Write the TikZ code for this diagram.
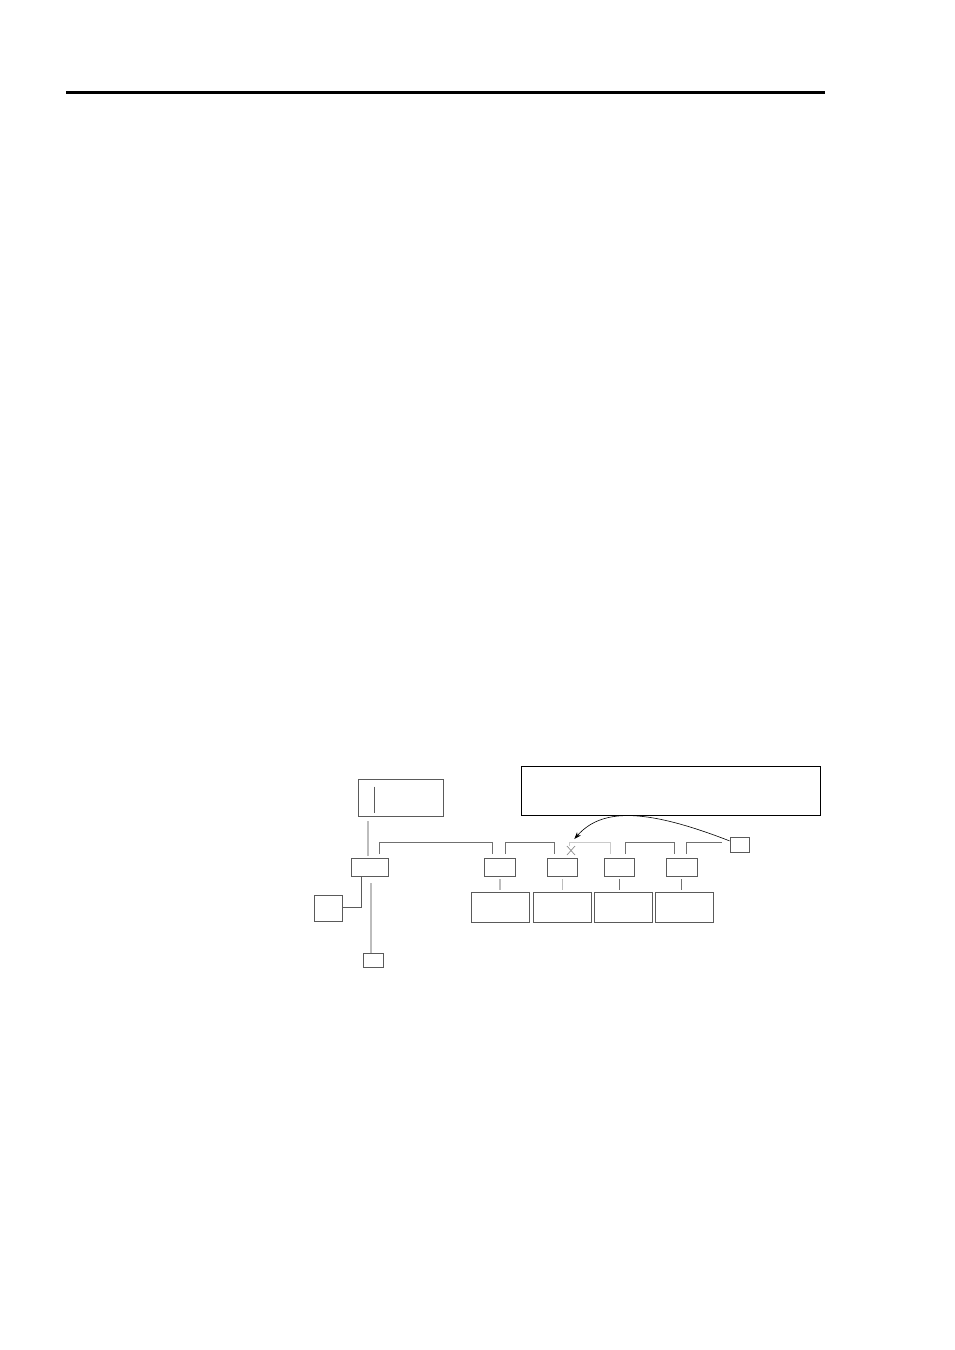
\documentclass[tikz,border=0pt]{standalone}
\usetikzlibrary{arrows.meta}
\definecolor{boxc}{HTML}{5A5A5A}
\definecolor{busc}{HTML}{707070}
\definecolor{lgc}{HTML}{BDBDBD}
\tikzset{
  box/.style={draw=boxc, line width=0.9pt, inner sep=0pt, minimum width=#1},
  box/.default=30pt,
  bus/.style={draw=busc, line width=0.9pt},
  feed/.style={draw=lgc, line width=1.6pt},
  faint/.style={draw=lgc!80, line width=0.8pt},
}
\begin{document}
\begin{tikzpicture}[x=1pt,y=-1pt]
\useasboundingbox (0,0) rectangle (954,1350);
% header rule
\coordinate (hl) at (66,92.5);
\coordinate (hr) at (825,92.5);
\draw[line width=2.4pt] (hl) -- (hr);

% nodes
\node[box=85pt, minimum height=37.4pt] (top) at (400.8,798) {};
\node[box=37.4pt, minimum height=18pt] (A) at (370,867.3) {};
\node[box=28.4pt, minimum height=26.4pt] (L) at (328.5,908.5) {};
\node[box=19.7pt, minimum height=14.3pt] (C) at (373.2,960.2) {};
\node[box=31pt, minimum height=18.4pt] (B1) at (499.8,867.5) {};
\node[box=30pt, minimum height=18.4pt] (B2) at (562.3,867.5) {};
\node[box=29.7pt, minimum height=18.4pt] (B3) at (619.2,867.5) {};
\node[box=31pt, minimum height=18.4pt] (B4) at (681.8,867.5) {};
\node[box=57.3pt, minimum height=30.2pt] (D1) at (500.3,907.4) {};
\node[box=58pt, minimum height=30.2pt] (D2) at (562.3,907.4) {};
\node[box=58pt, minimum height=30.2pt] (D3) at (623,907.4) {};
\node[box=58pt, minimum height=30.2pt] (D4) at (684.3,907.4) {};
\node[draw=black, line width=1pt, minimum width=299pt, minimum height=49pt, inner sep=0pt] (T) at (671.2,790.5) {};
\node[box=19.3pt, minimum height=14.7pt] (S) at (739.7,844.7) {};

% inner line of top box
\coordinate (ti1) at (374.3,786.7);
\coordinate (ti2) at (374.3,813.3);
\draw[boxc, line width=0.9pt] (ti1) -- (ti2);

% top box to A
\coordinate (t1) at (368,821);
\coordinate (t2) at (368,856);
\draw[feed] (t1) -- (t2);

% A to left box
\coordinate (a1) at (361.3,907);
\draw[boxc, line width=0.9pt] (A.south -| a1) -- (a1) -- (L.east |- a1);

% A down to bottom box
\coordinate (c1) at (370.7,883.3);
\draw[feed] (c1) -- (C.north -| c1);

% bus brackets
\draw[bus] (379.3,854) -- (379.3,842) -- (492.3,842) -- (492.3,854);
\draw[bus] (505.7,854) -- (505.7,842) -- (554.3,842) -- (554.3,854);
\draw[faint] (569,846) -- (569,842) -- (610.7,842) -- (610.7,854);
\draw[busc!80, line width=0.7pt] (567,846) -- (575,855) (575,846) -- (567,855);
\draw[bus] (625.7,854) -- (625.7,842) -- (674.3,842) -- (674.3,854);
\draw[bus] (686.7,854) -- (686.7,842) -- (722.3,842);

% B to D connectors
\draw[feed] ([yshift=-2pt]B1.south) -- ([yshift=2pt]D1.north -| B1.south);
\draw[feed] ([yshift=-2pt]B2.south) -- ([yshift=2pt]D2.north -| B2.south);
\draw[busc, line width=0.9pt] ([yshift=-2pt]B3.south) -- ([yshift=2pt]D3.north -| B3.south);
\draw[busc, line width=0.9pt] ([yshift=-2pt]B4.south) -- ([yshift=2pt]D4.north -| B4.south);

% curved arrow
\coordinate (tip) at (574.3,839);
\draw[black, line width=0.6pt, -{Stealth[length=7pt,width=5pt]}] ([yshift=-4pt]S.north west) .. controls (640,806) and (600,810) .. (tip);
\end{tikzpicture}
\end{document}
